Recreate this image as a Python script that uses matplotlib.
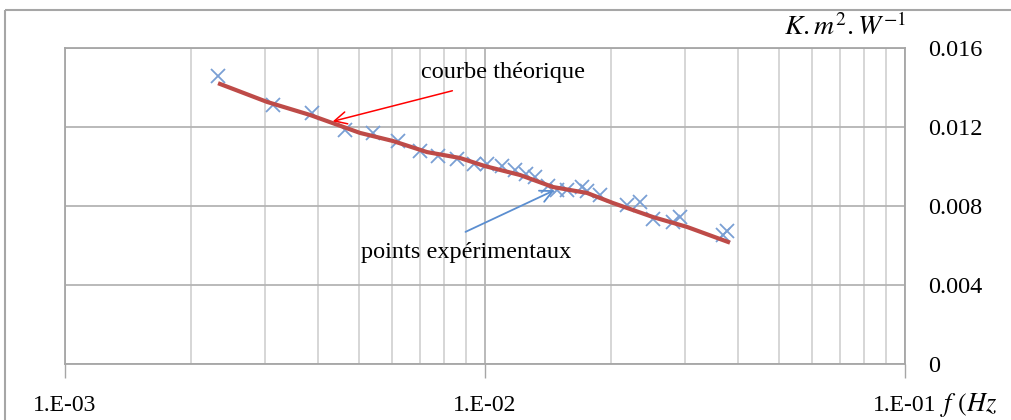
import matplotlib.pyplot as plt
from matplotlib.lines import Line2D
from matplotlib.ticker import FixedLocator, NullFormatter, LogLocator

plt.rcParams['font.family'] = ['Liberation Serif', 'DejaVu Serif']
plt.rcParams['mathtext.fontset'] = 'stix'

# points expérimentaux
f_exp = [0.002313, 0.003128, 0.003874, 0.004642, 0.005412, 0.006206, 0.007003,
         0.007729, 0.008577, 0.009414, 0.010111, 0.010977, 0.011788, 0.012522,
         0.013152, 0.014125, 0.014839, 0.015674, 0.017022, 0.017495, 0.018787,
         0.021786, 0.023388, 0.025119, 0.028027, 0.029124, 0.036878, 0.037693]
r_exp = [0.01458, 0.01311, 0.01271, 0.01185, 0.01170, 0.01129, 0.01078,
         0.01053, 0.01038, 0.01013, 0.01013, 0.01002, 0.00982, 0.00962,
         0.00947, 0.00901, 0.00881, 0.00881, 0.00896, 0.00876, 0.00856,
         0.00805, 0.00820, 0.00734, 0.00719, 0.00744, 0.00653, 0.00673]

# courbe théorique
f_th = [0.002339, 0.003027, 0.003831, 0.005040, 0.006039, 0.007277, 0.008721,
        0.010000, 0.012115, 0.014519, 0.017495, 0.020177, 0.025119, 0.030269,
        0.037902]
r_th = [0.01418, 0.01327, 0.01261, 0.01170, 0.01129, 0.01073, 0.01043,
        0.01002, 0.00957, 0.00896, 0.00866, 0.00815, 0.00744, 0.00694,
        0.00618]

y_ticks = [0, 0.004, 0.008, 0.012, 0.016]
y_labels = ['0', '0.004', '0.008', '0.012', '0.016']
x_ticks = [1e-3, 1e-2, 1e-1]
x_labels = ['1.E-03', '1.E-02', '1.E-01']

fig = plt.figure(figsize=(10.12, 4.2), dpi=100)
# cadre extérieur : bord haut et bord gauche
top = 1 - 10 / 420
left = 5 / 1012
fig.add_artist(Line2D([left, 1.0], [top, top], color='#a6a6a6', lw=1.5,
                      solid_capstyle='butt', transform=fig.transFigure))
fig.add_artist(Line2D([left, left], [0.0, top], color='#a6a6a6', lw=1.5,
                      solid_capstyle='butt', transform=fig.transFigure))

ax = fig.add_axes([65 / 1012, 1 - 364 / 420, 840 / 1012, 316 / 420])

ax.set_xscale('log')
ax.set_xlim(1e-3, 1e-1)
ax.set_ylim(0, 0.016)

ax.xaxis.set_major_locator(FixedLocator(x_ticks))
ax.set_xticklabels(x_labels)
ax.xaxis.set_minor_locator(LogLocator(base=10, subs=range(2, 10)))
ax.xaxis.set_minor_formatter(NullFormatter())
ax.set_yticks(y_ticks)
ax.set_yticklabels(y_labels)
ax.yaxis.tick_right()

ax.grid(True, which='major', color='#b4b4b4', lw=1.3)
ax.grid(True, which='minor', axis='x', color='#cccccc', lw=1.1)
ax.tick_params(axis='x', which='major', direction='out', length=10, width=1,
               color='#a6a6a6', pad=12, labelsize=17)
ax.tick_params(axis='x', which='minor', length=0)
ax.tick_params(axis='y', length=0, pad=17, labelsize=17.5)
for s in ax.spines.values():
    s.set_color('#a6a6a6')
    s.set_linewidth(1.3)

ax.plot(f_exp, r_exp, 'x', color='#7a9fd4', ms=10, mew=1.3, zorder=3)
ax.plot(f_th, r_th, '-', color='#be4b48', lw=3, zorder=4)

ax.text(0.011036, 0.01478, 'courbe théorique', fontsize=17.5,
        ha='center', va='center')
ax.annotate('', xy=(0.004276, 0.01225), xytext=(0.008486, 0.01387),
            arrowprops=dict(arrowstyle='->', color='red', lw=1.1,
                            mutation_scale=22), zorder=5)
ax.text(0.009012, 0.00567, 'points expérimentaux', fontsize=17.5,
        ha='center', va='center')
ax.annotate('', xy=(0.014839, 0.00886), xytext=(0.008863, 0.00663),
            arrowprops=dict(arrowstyle='->', color='#5b8ed0', lw=1.3,
                            mutation_scale=22), zorder=5)

fig.text(845 / 1012, 1 - 27 / 420, r'$K.m^2.W^{-1}$', fontsize=20,
         ha='center', va='center')
fig.text(940 / 1012, 1 - 405 / 420, r'$f\ (Hz$', fontsize=19,
         ha='left', va='center')

fig.savefig('out.png', dpi=100)
